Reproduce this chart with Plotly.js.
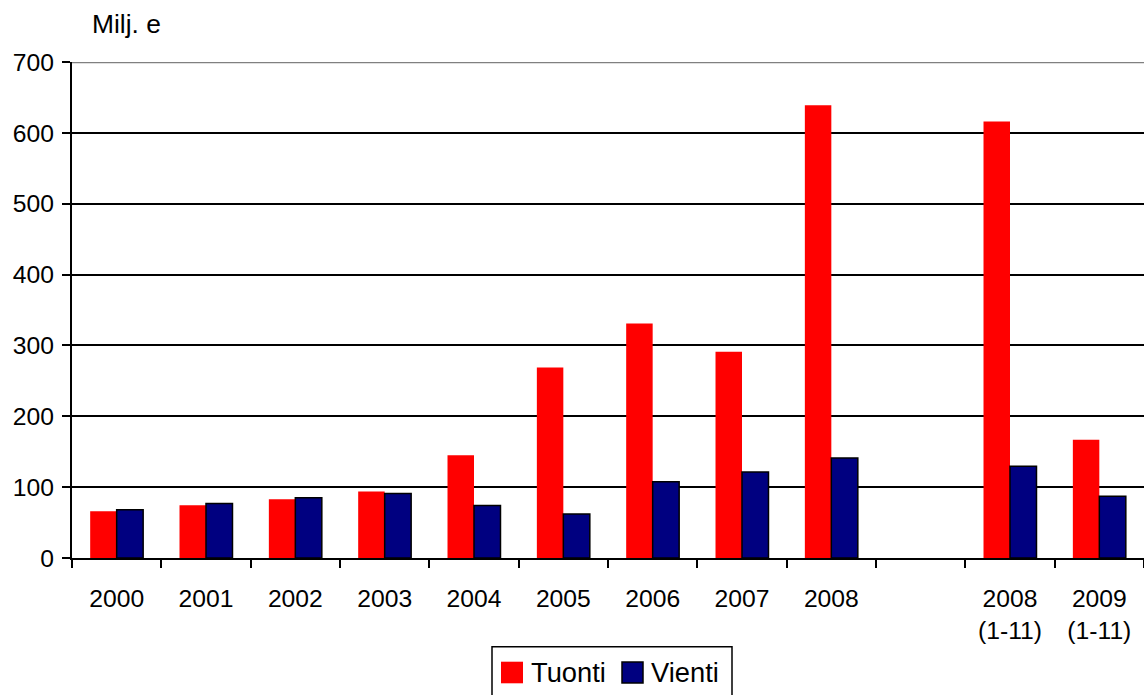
<!DOCTYPE html>
<html>
<head>
<meta charset="utf-8">
<script src="https://cdn.plot.ly/plotly-3.0.1.min.js"></script>
<style>html,body{margin:0;padding:0;background:#fff;}#chart{width:1144px;height:695px;}</style>
</head>
<body>
<div id="chart"></div>
<script>
const categories = ['2000','2001','2002','2003','2004','2005','2006','2007','2008',' ','2008<br>(1-11)','2009<br>(1-11)'];
const tuonti = [66, 74.5, 83, 94, 145, 269, 331, 291, 639, null, 616, 167];
const vienti = [68, 77, 85, 91, 74, 62, 107.5, 121.5, 141, null, 129.5, 87];
const seriesNames = ['Tuonti', 'Vienti'];
const seriesColors = ['#FF0000', '#000080'];
const yTicks = [0, 100, 200, 300, 400, 500, 600, 700];
const unitLabel = 'Milj. e';

const W = 1144, H = 695;
const M = {l: 72, r: 0, t: 62, b: 137};
const px = x => (x - M.l) / (W - M.l - M.r);
const py = y => (H - M.b - y) / (H - M.t - M.b);
const FONT = 'Liberation Sans, Arial, sans-serif';

const traces = [
  {type: 'bar', name: seriesNames[0], x: categories, y: tuonti,
   marker: {color: seriesColors[0], line: {width: 0}}, showlegend: false, hoverinfo: 'x+y'},
  {type: 'bar', name: seriesNames[1], x: categories, y: vienti,
   marker: {color: seriesColors[1], line: {width: 1.5, color: '#000'}}, showlegend: false, hoverinfo: 'x+y'}
];

const layout = {
  width: W, height: H,
  margin: M,
  paper_bgcolor: '#fff', plot_bgcolor: '#fff',
  barmode: 'group', bargap: 0.407, bargroupgap: 0,
  font: {family: FONT, color: '#000', size: 24.7},
  xaxis: {
    type: 'category', tickson: 'boundaries',
    ticks: 'outside', ticklen: 8, tickwidth: 2, tickcolor: '#000',
    showline: true, linecolor: '#000', linewidth: 2,
    showgrid: false, zeroline: false,
    tickfont: {family: FONT, size: 24.7, color: '#000'},
    ticklabelstandoff: 17
  },
  yaxis: {
    range: [0, 700], tickvals: yTicks, ticktext: yTicks.map(String),
    ticks: 'outside', ticklen: 8, tickwidth: 2, tickcolor: '#000',
    showline: true, linecolor: '#000', linewidth: 2,
    showgrid: true, gridcolor: '#000', gridwidth: 2,
    zeroline: false,
    tickfont: {family: FONT, size: 24.7, color: '#000'},
    ticklabelstandoff: 3
  },
  shapes: [
    {type: 'line', xref: 'paper', yref: 'y', x0: 0, x1: 1, y0: 700, y1: 700,
     line: {color: '#808080', width: 2.5}},
    {type: 'rect', xref: 'paper', yref: 'paper', x0: px(492), x1: px(732), y0: py(646.7), y1: py(710),
     line: {color: '#000', width: 1.5}, fillcolor: 'rgba(0,0,0,0)'},
    {type: 'rect', xref: 'paper', yref: 'paper', x0: px(501), x1: px(523), y0: py(661.7), y1: py(683.3),
     line: {width: 0}, fillcolor: seriesColors[0]},
    {type: 'rect', xref: 'paper', yref: 'paper', x0: px(622), x1: px(643), y0: py(662), y1: py(683),
     line: {color: '#000', width: 1.5}, fillcolor: seriesColors[1]}
  ],
  annotations: [
    {xref: 'paper', yref: 'paper', x: px(90), y: py(24), xanchor: 'left', yanchor: 'middle',
     text: unitLabel, showarrow: false, font: {family: FONT, size: 26.4, color: '#000'}},
    {xref: 'paper', yref: 'paper', x: px(529), y: py(672), xanchor: 'left', yanchor: 'middle',
     text: seriesNames[0], showarrow: false, font: {family: FONT, size: 27.3, color: '#000'}},
    {xref: 'paper', yref: 'paper', x: px(649), y: py(672), xanchor: 'left', yanchor: 'middle',
     text: seriesNames[1], showarrow: false, font: {family: FONT, size: 27.3, color: '#000'}}
  ]
};

Plotly.newPlot('chart', traces, layout, {displayModeBar: false, staticPlot: true});
</script>
</body>
</html>
